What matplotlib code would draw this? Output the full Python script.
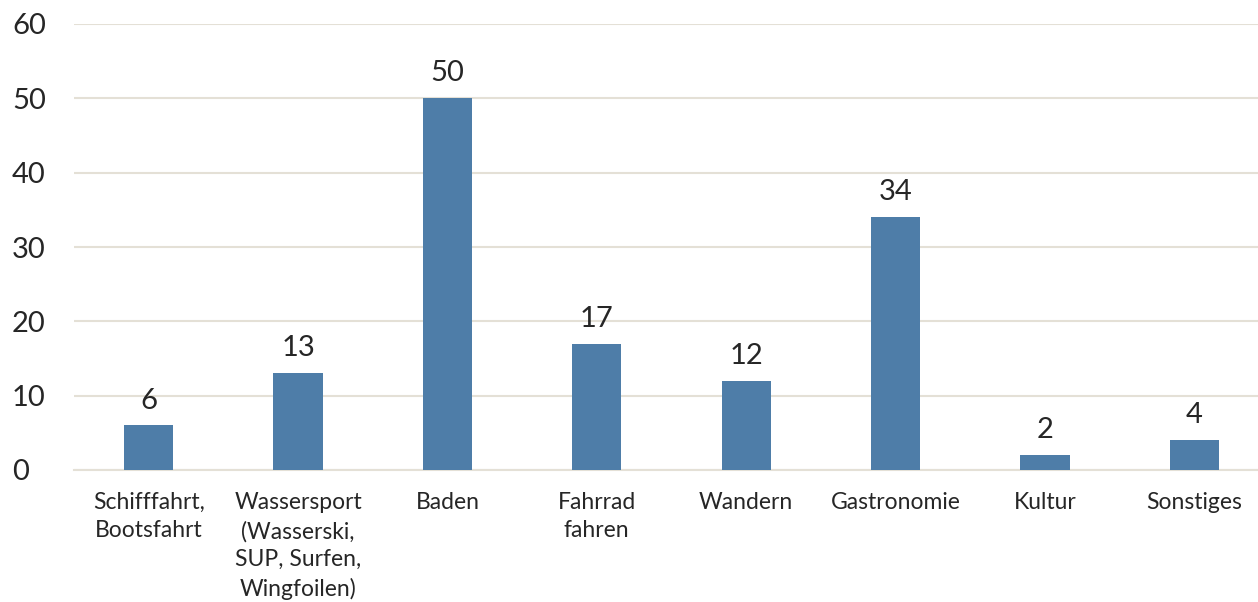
import matplotlib
matplotlib.use("Agg")
import matplotlib.pyplot as plt

# categories and counts
categories = ["Schifffahrt,\nBootsfahrt", "Wassersport\n(Wasserski,\nSUP, Surfen,\nWingfoilen)",
              "Baden", "Fahrrad\nfahren", "Wandern", "Gastronomie", "Kultur", "Sonstiges"]
values = [6, 13, 50, 17, 12, 34, 2, 4]
y_ticks = [0, 10, 20, 30, 40, 50, 60]

bar_color = "#4E7DA8"
grid_color = "#E4E0D6"
text_color = "#262626"

plt.rcParams['font.family'] = ['Lato', 'DejaVu Sans']

fig = plt.figure(figsize=(12.58, 6.02), dpi=100)
ax = fig.add_axes([74 / 1258, 132 / 602, 1195 / 1258, 446 / 602])

x = list(range(len(categories)))
bars = ax.bar(x, values, width=0.33, color=bar_color, zorder=3)

# value labels above bars
for xi, v in zip(x, values):
    ax.text(xi, v + 1.6, str(v), ha="center", va="bottom", fontsize=21, color=text_color)

ax.set_xlim(-0.5, 7.5)
ax.set_ylim(0, 60)
ax.set_yticks(y_ticks)
ax.set_xticks(x)
ax.set_xticklabels(categories, fontsize=16.5, color=text_color, linespacing=1.42, va="top")
ax.tick_params(axis="y", labelsize=21, labelcolor=text_color, length=0)
ax.tick_params(axis="x", length=0, pad=16)
for lbl in ax.get_yticklabels():
    lbl.set_horizontalalignment("left")
    lbl.set_x(-74 / 1195 + 12 / 1195)
ax.yaxis.set_tick_params(pad=0)

ax.grid(axis="y", color=grid_color, linewidth=1.5, zorder=0)
ax.set_axisbelow(True)
for side in ["top", "right", "left"]:
    ax.spines[side].set_visible(False)
ax.spines["bottom"].set_color(grid_color)
ax.spines["bottom"].set_linewidth(1.5)

fig.savefig("out.png", dpi=100)
